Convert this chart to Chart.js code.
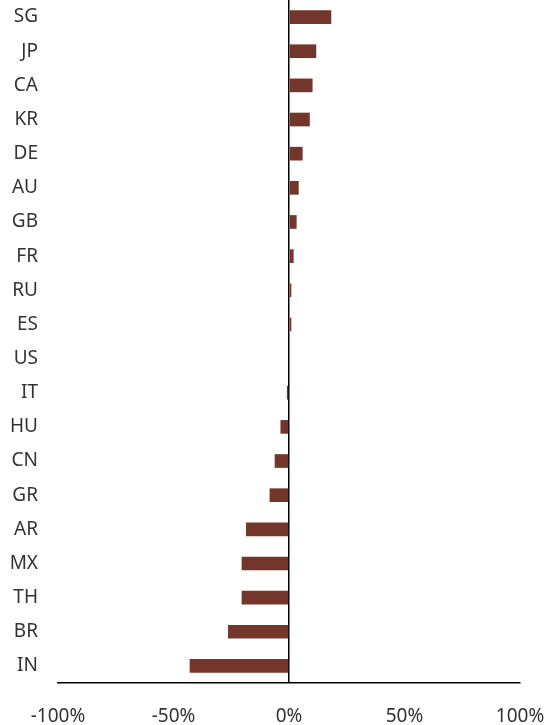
<!DOCTYPE html>
<html>
<head>
<meta charset="utf-8">
<script src="https://cdn.jsdelivr.net/npm/chart.js@4"></script>
<style>
  html, body { margin: 0; padding: 0; background: #fff; }
  #wrap { width: 544px; height: 725px; }
</style>
</head>
<body>
<div id="wrap"><canvas id="chart"></canvas></div>
<script>
// countries, top to bottom
const countries = ["SG", "JP", "CA", "KR", "DE", "AU", "GB", "FR", "RU", "ES",
                   "US", "IT", "HU", "CN", "GR", "AR", "MX", "TH", "BR", "IN"];
// change in %
const changes = [18.3, 11.8, 10.2, 9.0, 5.9, 4.2, 3.3, 2.0, 1.0, 1.0,
                 0, -0.9, -3.7, -6.2, -8.4, -18.6, -20.5, -20.5, -26.4, -43.0];
const xTicks = [-100, -50, 0, 50, 100];

const ctx = document.getElementById("chart").getContext("2d");
const font = { family: "'Noto Sans', sans-serif", size: 19 };

// drop the automatic label-overflow padding, layout.padding handles it
function noAxisPad(axis) {
  axis.paddingTop = 0;
  axis.paddingBottom = 0;
  axis.paddingLeft = 0;
  axis.paddingRight = 0;
}

new Chart(ctx, {
  type: "bar",
  data: {
    labels: countries,
    datasets: [{
      data: changes,
      backgroundColor: "#74362b",
      borderWidth: 0,
      categoryPercentage: 1,
      barPercentage: 0.4
    }]
  },
  options: {
    indexAxis: "y",
    responsive: true,
    maintainAspectRatio: false,
    animation: false,
    layout: { padding: { top: -4, right: 24, left: 0, bottom: 0 } },
    plugins: { legend: { display: false }, tooltip: { enabled: false } },
    scales: {
      x: {
        min: -100,
        max: 100,
        afterBuildTicks: (axis) => { axis.ticks = xTicks.map(v => ({ value: v })); },
        afterFit: (axis) => { axis.height = 42; noAxisPad(axis); },
        border: { display: true, color: "#000", width: 1.5 },
        grid: {
          drawTicks: false,
          color: (c) => c.tick && c.tick.value === 0 ? "#000" : "rgba(0,0,0,0)",
          lineWidth: 1.5
        },
        ticks: {
          padding: 22,
          color: "#333",
          font: font,
          maxRotation: 0,
          callback: (v) => v + "%"
        }
      },
      y: {
        afterFit: (axis) => { axis.width = 58; noAxisPad(axis); },
        border: { display: false },
        grid: { display: false, drawTicks: false },
        ticks: { padding: 20, color: "#333", font: font }
      }
    }
  }
});
</script>
</body>
</html>
